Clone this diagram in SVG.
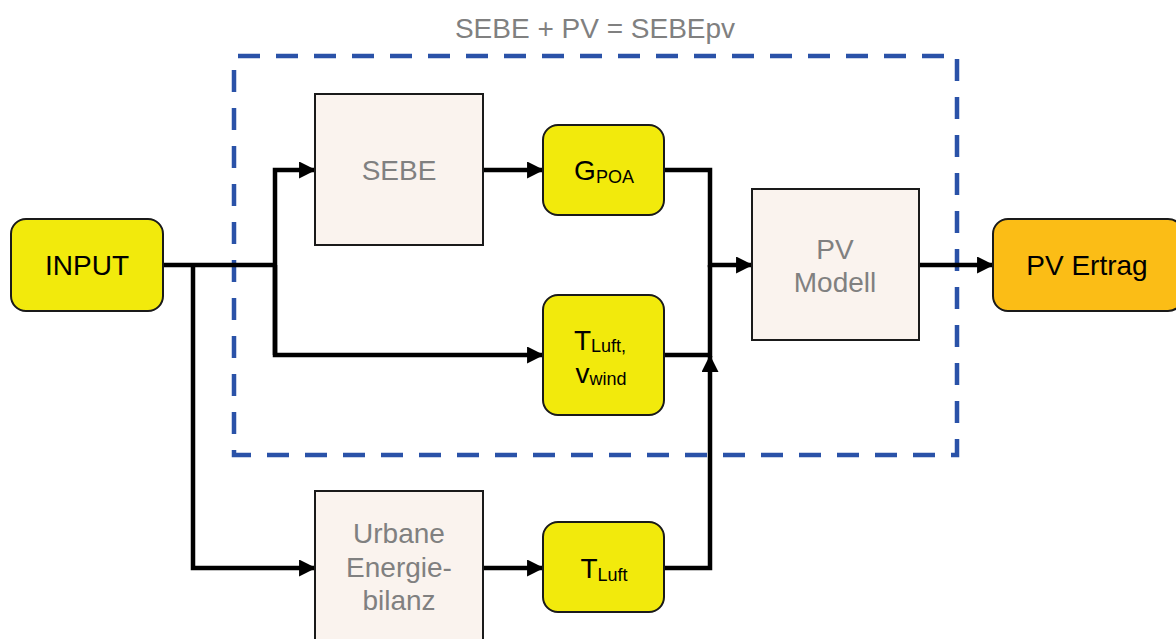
<svg xmlns="http://www.w3.org/2000/svg" width="1176" height="639" viewBox="0 0 1176 639">
<defs>
<style>
.y{fill:#f2ea0c;stroke:#1a1a1a;stroke-width:2}
.o{fill:#fbbd16;stroke:#1a1a1a;stroke-width:2}
.b{fill:#faf3ee;stroke:#1a1a1a;stroke-width:2}
.t{font-family:"Liberation Sans",Arial,sans-serif;font-size:28px;fill:#000;text-anchor:middle}
.g{font-family:"Liberation Sans",Arial,sans-serif;font-size:28px;fill:#808080;text-anchor:middle}
.s{font-size:18px}
.c{fill:none;stroke:#000;stroke-width:4.5}
</style>
<marker id="a" viewBox="0 0 16 16" refX="15" refY="8" markerWidth="17" markerHeight="17" orient="auto" markerUnits="userSpaceOnUse">
<path d="M0,0 L16,8 L0,16 z" fill="#000"/>
</marker>
</defs>
<rect width="1176" height="639" fill="#fff"/>
<text class="g" x="595" y="38">SEBE + PV = SEBEpv</text>
<rect x="234" y="56" width="723" height="399" fill="none" stroke="#2a52a8" stroke-width="4.5" stroke-dasharray="22 16" stroke-dashoffset="-4"/>
<g id="connectors">
<path class="c" d="M163,265 H275"/>
<path class="c" d="M275,355 V170 H315" marker-end="url(#a)"/>
<path class="c" d="M275,265 V355 H543" marker-end="url(#a)"/>
<path class="c" d="M193,265 V568 H315" marker-end="url(#a)"/>
<path class="c" d="M483,170 H543" marker-end="url(#a)"/>
<path class="c" d="M664,170 H710 V265 H752" marker-end="url(#a)"/>
<path class="c" d="M664,355 H710 V265"/>
<path class="c" d="M483,568 H543" marker-end="url(#a)"/>
<path class="c" d="M664,568 H710 V356" marker-end="url(#a)"/>
<path class="c" d="M919,265 H993" marker-end="url(#a)"/>
</g>
<g id="input"><rect class="y" x="11" y="219" width="152" height="92" rx="15"/><text class="t" x="87" y="275">INPUT</text></g>
<g id="sebe"><rect class="b" x="315" y="94" width="168" height="151"/><text class="g" x="399" y="180">SEBE</text></g>
<g id="gpoa"><rect class="y" x="543" y="125" width="121" height="90" rx="15"/><text class="t" x="604" y="180">G<tspan class="s" dy="3">POA</tspan></text></g>
<g id="tluftvwind"><rect class="y" x="543" y="295" width="121" height="120" rx="15"/><text class="t" x="600" y="350">T<tspan class="s" dy="2">Luft,</tspan></text><text class="t" x="601" y="383">v<tspan class="s" dy="2">wind</tspan></text></g>
<g id="pvmodell"><rect class="b" x="752" y="189" width="167" height="151"/><text class="g" x="835" y="259">PV</text><text class="g" x="835" y="292">Modell</text></g>
<g id="pvertrag"><rect class="o" x="993" y="219" width="190" height="92" rx="15"/><text class="t" x="1087" y="275">PV Ertrag</text></g>
<g id="urbane"><rect class="b" x="315" y="491" width="168" height="160"/><text class="g" x="399" y="543">Urbane</text><text class="g" x="399" y="577">Energie-</text><text class="g" x="399" y="610">bilanz</text></g>
<g id="tluft"><rect class="y" x="543" y="522" width="121" height="90" rx="15"/><text class="t" x="604" y="578">T<tspan class="s" dy="3">Luft</tspan></text></g>
</svg>
